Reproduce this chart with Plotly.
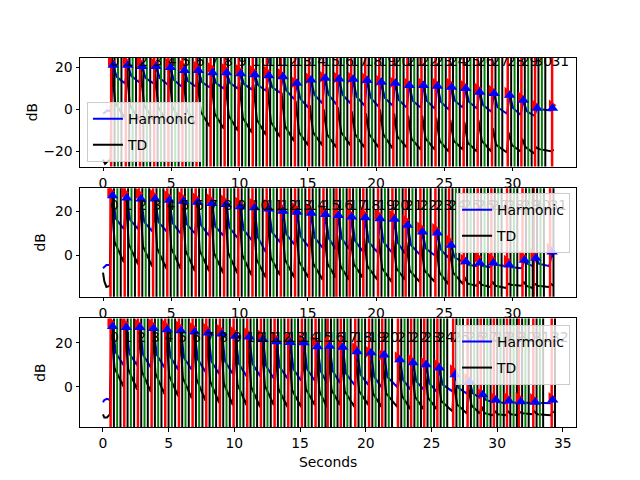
import plotly.graph_objects as go

FONT = "DejaVu Sans"

# ---------------- data ----------------
# Top panel
TOP_ONSETS = [0.55, 1.62, 2.66, 3.70, 4.74, 5.77, 6.80, 7.83, 8.86, 9.89,
              10.92, 11.95, 12.98, 14.01, 15.04, 16.07, 17.10, 18.13, 19.16, 20.19,
              21.22, 22.25, 23.28, 24.31, 25.34, 26.37, 27.40, 28.45, 29.60, 30.60,
              31.60, 32.85]
TOP_H_PEAK = [21.0, 21.0, 20.5, 20.5, 20.0, 18.5, 18.5, 17.5, 17.5, 17.0,
              16.5, 16.0, 15.5, 12.4, 14.0, 14.8, 14.5, 14.3, 13.8, 12.9,
              12.4, 11.4, 11.4, 11.0, 10.5, 10.0, 8.1, 7.6, 6.7, 4.3,
              0.5, 0.5]
TOP_H_KNEE = [15.5, 16.0, 15.0, 15.0, 14.0, 13.5, 13.0, 12.5, 12.5, 12.0,
              11.5, 10.5, 9.0, 5.0, 7.0, 7.0, 7.0, 6.0, 5.5, 5.5,
              4.5, 4.0, 4.0, 3.5, 4.0, 3.5, 2.0, 1.0, 0.5, -1.0,
              0.0, 0.0]
TOP_H_TROUGH = [12.5, 13.0, 12.5, 12.0, 11.0, 11.0, 10.5, 10.0, 10.0, 9.5,
                9.0, 8.0, 5.0, 1.0, 3.0, 2.5, 3.0, 2.0, 1.5, 2.0,
                1.0, 1.0, 0.5, 0.0, 1.0, 0.5, -1.0, -2.0, -2.5, -3.0,
                -0.5, -0.5]
TOP_RED_VAL = [23.0, 23.0, 22.5, 22.0, 22.0, 21.0, 20.5, 20.0, 19.5, 19.0,
               18.5, 18.0, 17.0, 12.9, 14.8, 15.5, 15.2, 15.2, 14.8, 13.8,
               12.9, 12.4, 12.4, 12.4, 12.4, 11.4, 10.0, 9.0, 8.0, 5.7,
               1.9, 1.9]
TOP_TD_PEAK = [19.5, 19.5, 19.0, 18.5, 18.5, 17.5, 16.0, 15.0, 14.0, 13.0,
               12.0, 10.5, 8.0, 4.0, 2.0, 0.0, 1.0, -1.0, -2.0, 0.0,
               -2.0, -3.0, -3.0, -4.0, -5.0, -6.0, -5.0, -9.0, -11.0, -14.0,
               -18.0, -19.0]
TOP_TD_KNEE = [3, 2, 2, 1, 1, 0, -1, -2, -3, -4,
               -5, -6, -8, -11, -11, -12, -11, -12, -12, -12,
               -13, -14, -14, -15, -15, -16, -15, -17, -17, -18,
               -19, -19.5]
TOP_TD_TROUGH = [-4, -5, -5, -6, -6, -7, -8, -9, -10, -11,
                 -12, -13, -15, -17, -17, -18, -17, -18, -18, -18.5,
                 -18, -19, -19, -20, -19, -20, -20, -20.5, -20, -21,
                 -20, -20]
TOP_PRE_T = [0.0, 0.15, 0.3, 0.5]
TOP_PRE_H = [-2.0, -1.5, -0.5, -1.0]
TOP_PRE_TD = [-24.0, -26.0, -25.0, -24.0]
TOP_END = 33.0

# Middle panel
MID_ONSETS = [0.50, 1.54, 2.58, 3.62, 4.66, 5.70, 6.74, 7.78, 8.82, 9.86,
              10.90, 11.94, 12.98, 14.02, 15.06, 16.10, 17.05, 18.02, 19.02, 20.10,
              21.15, 22.12, 23.20, 24.30, 25.30, 26.38, 27.40, 28.40, 29.55, 30.68,
              31.50, 32.70]
MID_H_PEAK = [27.0, 26.0, 25.5, 25.5, 25.0, 24.5, 24.0, 23.5, 23.0, 22.0,
              21.5, 21.0, 20.0, 19.5, 19.0, 18.5, 18.0, 17.3, 17.0, 16.5,
              16.3, 13.6, 10.5, 10.0, 4.5, -3.0, -3.6, -3.6, -4.5, -2.3,
              -1.4, 1.4]
MID_H_KNEE = [16.5, 16.0, 15.0, 15.0, 14.5, 14.0, 13.5, 13.0, 12.5, 11.5,
              8.0, 10.5, 9.5, 8.5, 8.0, 7.5, 7.5, 6.5, 6.0, 6.0,
              5.5, 4.5, 3.0, 2.5, -1.0, -4.5, -5.0, -4.5, -5.5, -4.0,
              -4.0, 0.0]
MID_H_TROUGH = [12.0, 12.0, 11.0, 11.0, 10.0, 10.0, 9.0, 9.0, 8.0, 7.0,
                1.5, 6.0, 5.0, 4.0, 3.5, 3.0, 3.0, 2.0, 1.5, 1.5,
                1.0, 0.5, 0.0, -1.0, -3.0, -5.0, -5.5, -5.0, -6.0, -5.0,
                -5.0, -1.0]
MID_RED_VAL = [29.0, 28.5, 28.0, 27.5, 27.0, 26.5, 26.0, 25.5, 25.0, 24.0,
               23.5, 23.0, 22.0, 21.5, 21.0, 20.5, 19.5, 19.0, 19.0, 18.5,
               18.0, 16.0, 12.7, 12.0, 6.8, -2.0, -1.0, -1.5, -2.5, -0.5,
               0.5, 3.0]
MID_TD_PEAK = [28.5, 28.0, 27.5, 27.0, 26.5, 25.5, 24.5, 23.5, 22.5, 21.0,
               19.5, 18.0, 16.0, 14.0, 12.0, 10.5, 9.0, 9.0, 8.0, 7.5,
               7.0, 6.0, 5.5, 5.0, 3.0, -10.0, -12.0, -12.0, -13.0, -12.0,
               -13.0, -13.0]
MID_TD_KNEE = [6, 5, 4, 3, 3, 2, 2, 1, 1, 0,
               -2, -1, -2, -3, -4, -4, -5, -4, -5, -6,
               -6, -7, -7, -8, -8, -13, -13.5, -14, -13.5, -14,
               -14, -13.5]
MID_TD_TROUGH = [-3, -4, -5, -6, -6, -7, -7, -8, -8, -9,
                 -10, -9, -10, -10, -11, -10, -11, -10, -11, -12,
                 -11, -12, -12, -13, -13, -14, -14.5, -15, -14, -15,
                 -14.5, -14]
MID_PRE_T = [0.0, 0.1, 0.25, 0.45]
MID_PRE_H = [-6.0, -5.5, -4.5, -4.5]
MID_PRE_TD = [-8.0, -12.0, -14.5, -14.0]
MID_END = 33.0

# Bottom panel
BOT_ONSETS = [0.53, 1.57, 2.61, 3.65, 4.69, 5.73, 6.77, 7.81, 8.85, 9.89,
              10.93, 11.97, 13.01, 14.05, 15.09, 16.13, 17.05, 18.05, 19.15, 20.20,
              21.20, 22.40, 23.40, 24.40, 25.40, 26.60, 27.70, 28.70, 29.70, 30.70,
              31.60, 32.70, 34.10]
BOT_H_PEAK = [27.5, 27.0, 27.0, 26.5, 26.0, 25.5, 25.0, 24.5, 24.0, 23.0,
              22.7, 21.5, 20.5, 20.2, 20.0, 18.2, 18.5, 18.0, 16.0, 15.5,
              14.5, 12.3, 11.0, 10.0, 8.6, 5.5, 2.3, -3.6, -6.0, -6.5,
              -6.8, -7.0, -6.0]
BOT_H_KNEE = [15.5, 15.0, 14.5, 14.5, 13.5, 13.0, 12.5, 11.5, 11.5, 10.5,
              10.5, 9.5, 9.0, 8.0, 8.0, 7.0, 7.0, 6.0, 5.5, 4.5,
              4.5, 3.0, 2.5, 1.5, 1.0, -0.5, -3.0, -6.0, -7.0, -7.0,
              -7.2, -7.3, -6.5]
BOT_H_TROUGH = [10, 10, 9, 9, 8, 8, 7, 6, 6, 5,
                5, 4, 4, 3, 3, 2, 2, 1, 1, 0,
                0, -1, -1, -2, -2, -3, -5, -7, -7.5, -7.5,
                -7.5, -7.5, -7]
BOT_RED_VAL = [29.5, 29.0, 28.5, 28.5, 28.0, 27.5, 27.0, 26.5, 26.0, 25.0,
               24.5, 23.5, 22.5, 22.0, 21.5, 20.5, 20.0, 19.0, 17.7, 16.0,
               14.5, 13.6, 12.3, 11.0, 10.0, 7.6, 3.6, -3.2, -5.0, -5.0,
               -5.0, -5.5, -5.0]
BOT_TD_PEAK = [28.5, 28.0, 28.0, 27.5, 27.0, 26.5, 26.0, 25.0, 24.0, 22.5,
               21.0, 20.0, 18.5, 17.0, 16.0, 15.0, 14.5, 14.0, 13.0, 12.0,
               11.0, 10.0, 8.0, 6.0, 4.0, 2.0, 0.0, -9.0, -11.0, -11.0,
               -11.5, -11.0, -11.0]
BOT_TD_KNEE = [8.5, 8, 7, 6, 5, 4, 3.5, 2.5, 1.5, 1,
               0, 0.5, -1, -1.5, -1, -2, -1.5, -2, -2, -3,
               -3, -4, -4.5, -5, -6.5, -8, -8.5, -12, -12.5, -12.5,
               -12, -12.5, -11.5]
BOT_TD_TROUGH = [0, -1, -2, -3, -4, -5, -6, -7, -8, -8,
                 -9, -8, -9, -9, -8, -9, -8, -9, -8, -9,
                 -9, -10, -10, -10, -11, -12, -12, -13, -13, -13,
                 -12.5, -13, -12]
BOT_PRE_T = [0.0, 0.1, 0.3, 0.45]
BOT_PRE_H = [-7.0, -6.0, -5.5, -6.0]
BOT_PRE_TD = [-12.5, -14.0, -14.0, -13.0]
BOT_END = 34.3

# timing of curve features and detector lines (seconds after each onset)
H_RISE, H_KNEE_T = 0.2, 0.45
TD_RISE, TD_KNEE_T = 0.1, 0.35
RED_LAGS = [0.05]
BLACK_LAGS = [0.30, 0.80]
GREEN_LAGS = [0.55]

# ---------------- figure ----------------
fig = go.Figure()


def envelope(pre_t, pre_v, onsets, peaks, knees, troughs, end, rise, knee_t):
    xs = list(pre_t)
    ys = list(pre_v)
    for k, o in enumerate(onsets):
        nxt = onsets[k + 1] if k + 1 < len(onsets) else end
        t_end = nxt - 0.03
        t_peak = min(o + rise, t_end - 0.04)
        xs += [o, t_peak]
        ys += [ys[-1], peaks[k]]
        if o + knee_t < t_end - 0.05:
            xs.append(o + knee_t)
            ys.append(knees[k])
        xs.append(t_end)
        ys.append(troughs[k])
    return xs, ys


def vlines(onsets, lags, end):
    xs, ys = [], []
    for o in onsets:
        for lag in lags:
            t = o + lag
            if t > end + 0.1:
                continue
            xs += [t, t, None]
            ys += [-1000, 1000, None]
    return xs, ys


panels = [
    dict(ax="", on=TOP_ONSETS, hp=TOP_H_PEAK, hk=TOP_H_KNEE, ht=TOP_H_TROUGH, rv=TOP_RED_VAL,
         tp=TOP_TD_PEAK, tk=TOP_TD_KNEE, tt=TOP_TD_TROUGH, pt=TOP_PRE_T, ph=TOP_PRE_H,
         ptd=TOP_PRE_TD, end=TOP_END, legend="legend"),
    dict(ax="2", on=MID_ONSETS, hp=MID_H_PEAK, hk=MID_H_KNEE, ht=MID_H_TROUGH, rv=MID_RED_VAL,
         tp=MID_TD_PEAK, tk=MID_TD_KNEE, tt=MID_TD_TROUGH, pt=MID_PRE_T, ph=MID_PRE_H,
         ptd=MID_PRE_TD, end=MID_END, legend="legend2"),
    dict(ax="3", on=BOT_ONSETS, hp=BOT_H_PEAK, hk=BOT_H_KNEE, ht=BOT_H_TROUGH, rv=BOT_RED_VAL,
         tp=BOT_TD_PEAK, tk=BOT_TD_KNEE, tt=BOT_TD_TROUGH, pt=BOT_PRE_T, ph=BOT_PRE_H,
         ptd=BOT_PRE_TD, end=BOT_END, legend="legend3"),
]

for p in panels:
    xa, ya = "x" + p["ax"], "y" + p["ax"]
    hx, hy = envelope(p["pt"], p["ph"], p["on"], p["hp"], p["hk"], p["ht"], p["end"],
                      H_RISE, H_KNEE_T)
    tx, ty = envelope(p["pt"], p["ptd"], p["on"], p["tp"], p["tk"], p["tt"], p["end"],
                      TD_RISE, TD_KNEE_T)
    fig.add_trace(go.Scatter(x=hx, y=hy, mode="lines", name="Harmonic",
                             line=dict(color="#0000ff", width=2), xaxis=xa, yaxis=ya,
                             legend=p["legend"], legendgroup="h" + p["ax"], hoverinfo="skip"))
    fig.add_trace(go.Scatter(x=tx, y=ty, mode="lines", name="TD",
                             line=dict(color="#000000", width=2), xaxis=xa, yaxis=ya,
                             legend=p["legend"], legendgroup="t" + p["ax"], hoverinfo="skip"))
    for lags, col, w in ((GREEN_LAGS, "#008000", 2), (RED_LAGS, "#ff0000", 2.5),
                         (BLACK_LAGS, "#000000", 2)):
        vx, vy = vlines(p["on"], lags, p["end"])
        fig.add_trace(go.Scatter(x=vx, y=vy, mode="lines", showlegend=False,
                                 line=dict(color=col, width=w), xaxis=xa, yaxis=ya,
                                 hoverinfo="skip"))
    fig.add_trace(go.Scatter(x=p["on"], y=p["rv"], mode="markers", showlegend=False,
                             marker=dict(symbol="triangle-right", color="#ff0000", size=10),
                             xaxis=xa, yaxis=ya, hoverinfo="skip"))
    bx = []
    for k, o in enumerate(p["on"]):
        nxt = p["on"][k + 1] if k + 1 < len(p["on"]) else p["end"]
        bx.append(min(o + H_RISE, nxt - 0.07))
    fig.add_trace(go.Scatter(x=bx, y=p["hp"], mode="markers", showlegend=False,
                             marker=dict(symbol="triangle-up", color="#0000ff", size=10),
                             xaxis=xa, yaxis=ya, hoverinfo="skip"))
    fig.add_trace(go.Scatter(x=p["on"], y=[19] * len(p["on"]), mode="text",
                             text=[str(k) for k in range(len(p["on"]))],
                             textposition="top right",
                             textfont=dict(family=FONT, size=13.9, color="black"),
                             showlegend=False, xaxis=xa, yaxis=ya, hoverinfo="skip"))

axis_common = dict(showline=True, mirror=True, linecolor="black", linewidth=1,
                   ticks="outside", ticklen=3.5, tickwidth=1, tickcolor="black",
                   showgrid=False, zeroline=False, automargin=False,
                   tickfont=dict(family=FONT, size=13.9, color="black"))

leg_common = dict(bgcolor="rgba(255,255,255,0.8)", bordercolor="#cccccc", borderwidth=1,
                  font=dict(family=FONT, size=13.9, color="black"),
                  traceorder="grouped", tracegroupgap=5)

title_font = dict(family=FONT, size=13.9, color="black")
annotations = [
    dict(text="dB", xref="paper", yref="paper", x=-0.0968, y=0.853, textangle=-90,
         showarrow=False, xanchor="center", yanchor="middle", font=title_font),
    dict(text="dB", xref="paper", yref="paper", x=-0.0806, y=0.4999, textangle=-90,
         showarrow=False, xanchor="center", yanchor="middle", font=title_font),
    dict(text="dB", xref="paper", yref="paper", x=-0.0806, y=0.147, textangle=-90,
         showarrow=False, xanchor="center", yanchor="middle", font=title_font),
    dict(text="Seconds", xref="paper", yref="paper", x=0.5, y=-0.0943,
         showarrow=False, xanchor="center", yanchor="middle", font=title_font),
]

fig.update_layout(
    width=640, height=480,
    margin=dict(l=72, r=72, t=50, b=60.8),
    paper_bgcolor="white", plot_bgcolor="white",
    font=dict(family=FONT, size=13.9, color="black"),
    xaxis=dict(axis_common, domain=[0, 1], anchor="y", range=[-1.685, 34.65],
               tick0=0, dtick=5),
    xaxis2=dict(axis_common, domain=[0, 1], anchor="y2", range=[-1.685, 34.65],
                tick0=0, dtick=5),
    xaxis3=dict(axis_common, domain=[0, 1], anchor="y3", range=[-1.75, 36.0],
                tick0=0, dtick=5),
    yaxis=dict(axis_common, domain=[0.7059, 1.0], anchor="x", range=[-27.3, 24.5],
               tick0=0, dtick=20),
    yaxis2=dict(axis_common, domain=[0.3528, 0.6469], anchor="x2", range=[-19.0, 30.4],
                tick0=0, dtick=20),
    yaxis3=dict(axis_common, domain=[0.0, 0.2941], anchor="x3", range=[-18.3, 31.1],
                tick0=0, dtick=20),
    annotations=annotations,
    legend=dict(leg_common, x=0.014, y=0.7175, xanchor="left", yanchor="bottom"),
    legend2=dict(leg_common, x=0.988, y=0.6337, xanchor="right", yanchor="top"),
    legend3=dict(leg_common, x=0.988, y=0.2765, xanchor="right", yanchor="top"),
)

fig.write_html("out.html")
